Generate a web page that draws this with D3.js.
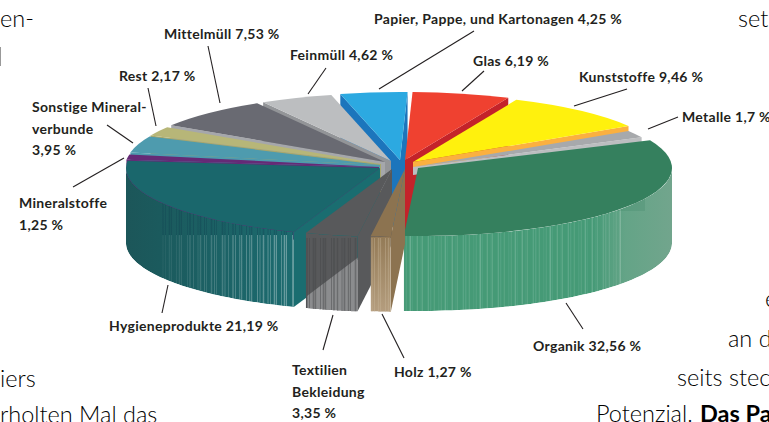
<!DOCTYPE html>
<html><head><meta charset="utf-8">
<style>html,body{margin:0;padding:0;background:#fff;overflow:hidden}svg{display:block}</style>
<script src="https://cdn.jsdelivr.net/npm/d3@7/dist/d3.min.js"></script>
</head><body><div id="c"></div>
<script>
const categories=["Organik","Holz","Textilien Bekleidung","Hygieneprodukte","Mineralstoffe","Sonstige Mineralverbunde","Rest","Mittelmüll","Feinmüll","Papier, Pappe, und Kartonagen","Glas","Kunststoffe","Metalle"];
const values=[32.56,1.27,3.35,21.19,1.25,3.95,2.17,7.53,4.62,4.25,6.19,9.46,1.7];
const topColors=["#35805e","#8c7350","#58595b","#1a676c","#652a76","#4e9bae","#b7b678","#696a72","#bcbec0","#2ca9e1","#ef4130","#fff10d","#a7a9ac"];
const wallColors=["#449a74","#8c7350","#58595b","#1a6d70","#652a76","#4e9bae","#a8a76c","#a5a7ab","#939598","#1c75bc","#c4232a","#fbb040","#bcbec0"];
// where each exploded slice's tip sits
const tipX=[418,405,392,380,379,380,381,385,391,400,405,413,413];
const tipY=[168,169,169,168,167,165,164,162,161,160,160,162,167];
// how far each cut wall drops below its top face
const wallDepth=[75,75,75,75,75,75,75,75,75,75,75,8,8];
// labels: lines, x, baselines
const labelLines=[["Organik 32,56 %"],["Holz 1,27 %"],["Textilien","Bekleidung","3,35 %"],["Hygieneprodukte 21,19 %"],["Mineralstoffe","1,25 %"],["Sonstige Mineral-","verbunde","3,95 %"],["Rest 2,17 %"],["Mittelmüll 7,53 %"],["Feinmüll 4,62 %"],["Papier, Pappe, und Kartonagen 4,25 %"],["Glas 6,19 %"],["Kunststoffe 9,46 %"],["Metalle 1,7 %"]];
const labelX=[533,394,292,109,19,32,119,164,290,374,473,579,682];
const labelY=[[351],[377],[375,397,418],[331],[208,230],[112,134,155],[81],[39],[60],[24],[66],[82],[122]];
const leaders=[[566,303,583,329],[382,314,404,358],[333,315,323,350],[168,285,162,313],[124,158,73,187],[133,143,107,125],[156,126,148,88],[220,103,208,46],[308,94,326,68],[379,89,474,31],[462,91,484,71],[574,106,627,89],[648,129,678,117]];
const backgroundText=[["en-",0,27,false],["set",738,27,false],["iers",0,387,false],["rholten Mal das",0,423,false],["e",765,307,false],["an d",728,347,false],["seits stec",677,386,false],["Potenzial.",596,422,false],["Das Par",700,422,true]];

const W=769,H=422,RX=254,RY=68,DEPTH=75,START=66*Math.PI/180;
const rad=d3.sum(values)/100*2*Math.PI;
const svg=d3.select("#c").append("svg").attr("width",W).attr("height",H);
const defs=svg.append("defs");
const labelFont="'Lato',sans-serif";

svg.append("g").selectAll("text").data(backgroundText).join("text")
  .attr("x",d=>d[1]).attr("y",d=>d[2]).text(d=>d[0])
  .attr("font-family","Lato,sans-serif").attr("font-size",23.5).attr("font-weight",d=>d[3]?700:300).attr("fill","#000");
svg.append("line").attr("x1",0.5).attr("x2",0.5).attr("y1",47).attr("y2",66).attr("stroke","#999");

const slices=d3.pie().sort(null).value(d=>d).startAngle(START).endAngle(START+rad)(values)
  .map((s,i)=>({...s,i,mid:(s.startAngle+s.endAngle)/2}))
  .sort((a,b)=>(-Math.cos(a.mid))-(-Math.cos(b.mid)));

const arc=d3.arc().innerRadius(0).outerRadius(RX);
const sx=d3.scaleLinear().domain([-1,1]).range([-RX,RX]);
const sy=d3.scaleLinear().domain([-1,1]).range([-RY,RY]);
const line=d3.line();
const px=(s,a)=>tipX[s.i]+sx(Math.sin(a));
const py=(s,a)=>tipY[s.i]+sy(-Math.cos(a));

// stripe rhythm of the printed wall texture
const stripeRhythm=[2.5,4,2,5,3,2,6,2.5,3.5,4.5];
function stripes(x0,x1){const o=[];let x=x0,k=0;while(x<x1){o.push(x);x+=stripeRhythm[k++%stripeRhythm.length];}return o;}

function gradient(id,stops,x1,x2,y1,y2){
  const g=defs.append("linearGradient").attr("id",id).attr("gradientUnits","userSpaceOnUse")
    .attr("x1",x1).attr("x2",x2).attr("y1",y1||0).attr("y2",y2||0);
  stops.forEach(s=>g.append("stop").attr("offset",s[0]).attr("stop-color",s[1]));
  return `url(#${id})`;
}
const wallFill={
  0:gradient("gO",[[0,"#459a76"],[.7,"#459a76"],[.82,"#64a487"],[1,"#72a58d"]],407,673),
  3:gradient("gH",[[0,"#1c5659"],[.2,"#1b5a5d"],[1,"#1c6c70"]],125,297),
  2:"#58595b",
  1:gradient("gW",[[0,"#937a56"],[1,"#b49d7e"]],0,0,236,311)
};

const chart=svg.append("g");
slices.forEach(s=>{
  const g=chart.append("g");
  const tx=tipX[s.i],ty=tipY[s.i],dp=wallDepth[s.i];
  const wall=a=>[[tx,ty],[px(s,a),py(s,a)],[px(s,a),py(s,a)+dp],[tx,ty+dp]];
  // radial cut walls facing the viewer
  if(Math.sin(s.startAngle)<0) g.append("path").attr("d",line(wall(s.startAngle))+"Z").attr("fill",wallColors[s.i]);
  if(Math.sin(s.endAngle)>0) g.append("path").attr("d",line(wall(s.endAngle))+"Z").attr("fill",wallColors[s.i]);
  // outer curved wall, front half only
  const a0=Math.max(s.startAngle,Math.PI/2),a1=Math.min(s.endAngle,1.5*Math.PI);
  if(a1>a0){
    const as=d3.range(0,61).map(k=>a0+(a1-a0)*k/60);
    const pts=as.map(a=>[px(s,a),py(s,a)]).concat(as.slice().reverse().map(a=>[px(s,a),py(s,a)+DEPTH]));
    const id="w"+s.i;
    defs.append("clipPath").attr("id",id).append("path").attr("d",line(pts)+"Z");
    const w=g.append("g").attr("clip-path",`url(#${id})`);
    w.append("path").attr("d",line(pts)+"Z").attr("fill",wallFill[s.i]||wallColors[s.i]);
    const xr=d3.extent(pts,p=>p[0]);
    const vline=(xs,y0,y1,col,op,wd)=>w.selectAll(null).data(xs).join("line")
      .attr("x1",d=>d).attr("x2",d=>d).attr("y1",y0).attr("y2",y1).attr("stroke",col)
      .attr("stroke-width",(d,k)=>wd[k%wd.length]).attr("opacity",op);
    if(s.i===0){
      vline(stripes(xr[0],xr[0]+218),200,320,"#fff",(d,k)=>0.06+0.16*((k*7)%5)/4,[1,.7,1.3,.8]);
      w.append("rect").attr("x",613).attr("y",190).attr("width",32).attr("height",21).attr("fill","#35805e").attr("opacity",.22);
    }
    if(s.i===3){
      const xs=stripes(163,297);
      vline(xs,235,320,"#fff",d=>0.06+0.3*(d-163)/134,[1,.8,1.5]);
      vline(xs,190,235,"#123f52",.35,[1,.8,1.5]);
    }
    if(s.i===2){
      const xs=stripes(307,360);
      w.append("path").attr("d",line([[307,296],[360,256],[360,320],[307,320]])+"Z").attr("fill","#8b8c8e");
      vline(xs,238,320,"#454648",.45,[1.4,1,1.6]);
    }
    if(s.i===1){
      vline(stripes(372,392),238,320,"#c9b79c",.4,[1.2,1,1.4]);
    }
  }
  // top face through d3.arc, flattened to the perspective
  g.append("path").attr("transform",`translate(${tx},${ty}) scale(1,${RY/RX})`)
    .attr("d",arc({startAngle:s.startAngle,endAngle:s.endAngle})).attr("fill",topColors[s.i]);
});

svg.append("g").selectAll("line.l").data(leaders).join("line")
  .attr("x1",d=>d[0]).attr("y1",d=>d[1]).attr("x2",d=>d[2]).attr("y2",d=>d[3])
  .attr("stroke","#231f20").attr("stroke-width",1.1);

labelLines.forEach((ls,i)=>ls.forEach((t,k)=>{
  svg.append("text").attr("x",labelX[i]).attr("y",labelY[i][k]).text(t)
    .attr("font-family",labelFont).attr("font-weight",700).attr("font-size",14).attr("letter-spacing",0.3).attr("fill","#231f20");
}));
</script></body></html>
